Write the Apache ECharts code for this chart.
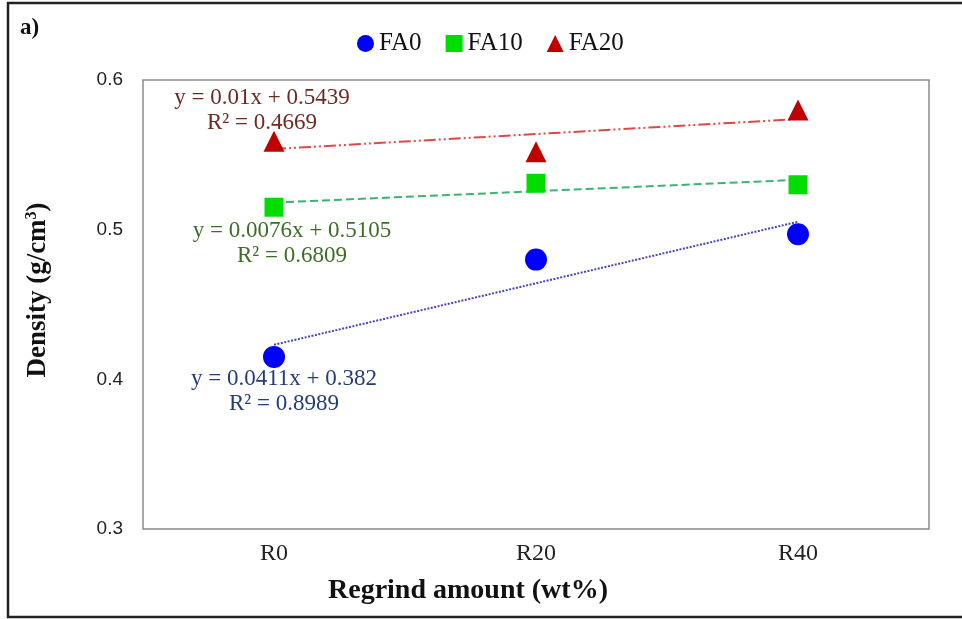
<!DOCTYPE html>
<html>
<head>
<meta charset="utf-8">
<script src="https://cdn.jsdelivr.net/npm/echarts@6/dist/echarts.min.js"></script>
<style>
  html, body { margin: 0; padding: 0; background: #fff; }
  #chart { width: 962px; height: 619px; }
</style>
</head>
<body>
<div id="chart"></div>
<script>
// Regrind amount categories
var categories = ['R0', 'R20', 'R40'];
// Measured density (g/cm3) for each fly-ash level
var fa0 = [0.415, 0.480, 0.497];
var fa10 = [0.515, 0.531, 0.530];
var fa20 = [0.559, 0.552, 0.580];
// Linear fits (x = category index 1..3)
var seriesNames = ['FA0', 'FA10', 'FA20'];
var slopes = [0.0411, 0.0076, 0.01];
var intercepts = [0.382, 0.5105, 0.5439];
var rSquared = ['0.8989', '0.6809', '0.4669'];
var yTicks = { min: 0.3, max: 0.6, interval: 0.1 };

var serif = '"Liberation Serif", "Times New Roman", serif';
var sans = '"Liberation Sans", Arial, sans-serif';

function fitLine(i) {
  return categories.map(function (c, k) {
    return +(slopes[i] * (k + 1) + intercepts[i]).toFixed(5);
  });
}
function eqText(i) {
  return 'y = ' + slopes[i] + 'x + ' + intercepts[i] + '\nR² = ' + rSquared[i];
}

var markerColors = ['#0000ff', '#00dd00', '#c00000'];
var markerSymbols = ['circle', 'rect', 'triangle'];
var markerSizes = [22, 19, 21];
var fitColors = ['#4646b4', '#3cb36e', '#e04848'];
var fitDash = [[2, 1.5], [8, 4], [12, 3, 2, 3, 2, 3]];
var eqColors = ['#243c78', '#3c6e28', '#6e2a22'];
var values = [fa0, fa10, fa20];

var chart = echarts.init(document.getElementById('chart'));

var series = [];
for (var i = 0; i < 3; i++) {
  series.push({
    name: seriesNames[i] + ' fit',
    type: 'line',
    data: fitLine(i),
    symbol: 'none',
    silent: true,
    z: 1,
    lineStyle: { color: fitColors[i], width: 2, type: fitDash[i] }
  });
}
for (var j = 0; j < 3; j++) {
  series.push({
    name: seriesNames[j],
    type: 'scatter',
    data: values[j],
    symbol: markerSymbols[j],
    symbolSize: markerSizes[j],
    z: 3,
    itemStyle: { color: markerColors[j], opacity: 1 }
  });
}

// Equation labels beside the R0 end of each fit (centre of the two lines)
var eqPos = [[284, 391], [292, 243], [262, 110]];
var eqGraphics = eqPos.map(function (p, i) {
  return {
    type: 'text',
    x: p[0], y: p[1],
    style: {
      text: eqText(i),
      font: '23px ' + serif,
      fill: eqColors[i],
      textAlign: 'center',
      textVerticalAlign: 'middle',
      lineHeight: 25
    },
    z: 10
  };
});

chart.setOption({
  animation: false,
  backgroundColor: '#ffffff',
  grid: {
    left: 143, right: 33, top: 80, bottom: 90,
    show: true, borderColor: '#8c8c8c', borderWidth: 1.5
  },
  legend: {
    data: seriesNames,
    top: 26,
    left: 352,
    itemGap: 24,
    itemWidth: 17,
    itemHeight: 17,
    textStyle: { fontFamily: serif, fontSize: 25, color: '#111' }
  },
  xAxis: {
    type: 'category',
    data: categories,
    boundaryGap: true,
    axisLine: { show: false },
    axisTick: { show: false },
    axisLabel: { fontFamily: serif, fontSize: 24, color: '#222', margin: 13 }
  },
  yAxis: {
    type: 'value',
    min: yTicks.min, max: yTicks.max, interval: yTicks.interval,
    splitLine: { show: false },
    axisLine: { show: false },
    axisTick: { show: false },
    axisLabel: {
      fontFamily: sans, fontSize: 19, color: '#222', margin: 20,
      formatter: function (v) { return v.toFixed(1); }
    }
  },
  series: series,
  graphic: [
    {
      type: 'rect',
      shape: { x: 8, y: 3, width: 970, height: 614 },
      style: { fill: 'none', stroke: '#222', lineWidth: 2.5 },
      z: 0, silent: true
    },
    {
      type: 'text', x: 20, y: 17,
      style: { text: 'a)', font: 'bold 23px ' + serif, fill: '#111' }
    },
    {
      // Y axis title with superscript unit
      type: 'text', x: 38, y: 290, rotation: Math.PI / 2,
      style: {
        text: '{t|Density (g/cm}{s|3}{t|)}',
        textAlign: 'center', textVerticalAlign: 'middle',
        rich: {
          t: { fontFamily: serif, fontSize: 27, fontWeight: 'bold', fill: '#111' },
          s: { fontFamily: serif, fontSize: 16, fontWeight: 'bold', fill: '#111', verticalAlign: 'top', padding: [0, 0, 12, 0] }
        }
      }
    },
    {
      type: 'text', x: 468, y: 591,
      style: {
        text: 'Regrind amount (wt%)', font: 'bold 28px ' + serif, fill: '#111',
        textAlign: 'center', textVerticalAlign: 'middle'
      }
    }
  ].concat(eqGraphics)
});
</script>
</body>
</html>
